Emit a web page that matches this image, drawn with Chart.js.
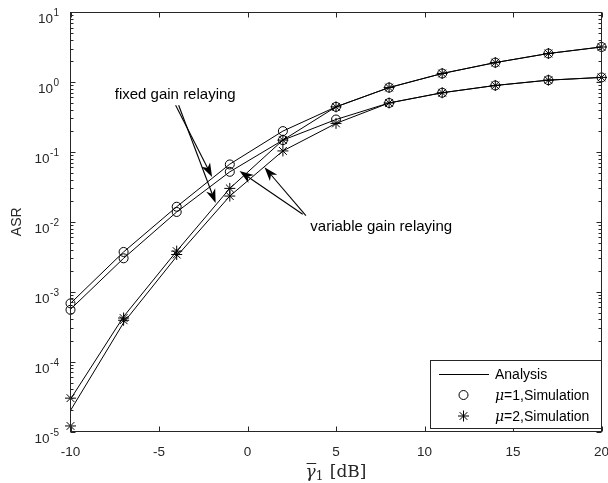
<!DOCTYPE html>
<html><head><meta charset="utf-8">
<script src="https://cdn.jsdelivr.net/npm/chart.js@4"></script>
<style>html,body{margin:0;padding:0;background:#fff}#wrap{width:608px;height:483px;position:relative}</style>
</head><body><div id="wrap"><canvas id="c" width="608" height="483"></canvas></div>
<script>
// ---- data ----
const snrDb = [-10, -7, -4, -1, 2, 5, 8, 11, 14, 17, 20];
const fixedMu1 = [6.8e-4, 3.7e-3, 1.64e-2, 6.67e-2, 0.198, 0.44, 0.83, 1.32, 1.89, 2.55, 3.16];
const variableMu1 = [5.6e-4, 3.0e-3, 1.38e-2, 5.18e-2, 0.147, 0.29, 0.50, 0.70, 0.89, 1.06, 1.16];
const fixedMu2 = [2.9e-5, 4.4e-4, 3.8e-3, 3.0e-2, 0.147, 0.44, 0.83, 1.32, 1.89, 2.55, 3.16];
const variableMu2 = [2.0e-5, 3.6e-4, 3.2e-3, 2.33e-2, 0.103, 0.255, 0.50, 0.70, 0.89, 1.06, 1.16];
const simFixedMu1 = [6.8e-4, 3.7e-3, 1.64e-2, 6.6e-2, 0.198, 0.44, 0.83, 1.32, 1.89, 2.55, 3.16];
const simVariableMu1 = [5.5e-4, 3.0e-3, 1.38e-2, 5.18e-2, 0.147, 0.29, 0.50, 0.70, 0.89, 1.06, 1.16];
const simFixedMu2 = [3.0e-5, 4.2e-4, 3.8e-3, 3.0e-2, 0.147, 0.44, 0.83, 1.32, 1.89, 2.55, 3.16];
const simVariableMu2 = [1.2e-5, 3.9e-4, 3.4e-3, 2.33e-2, 0.103, 0.255, 0.50, 0.70, 0.89, 1.06, 1.16];
const xTickValues = [-10, -5, 0, 5, 10, 15, 20];
const yDecades = [-5, -4, -3, -2, -1, 0, 1];
const legendLabels = ['Analysis', '=1,Simulation', '=2,Simulation'];
const yAxisTitle = 'ASR';
const fixedText = 'fixed gain relaying';
const variableText = 'variable gain relaying';
// annotation anchors in data units (x dB, y ASR)
const fixedTextAt = [-7.5, 0.646];
const fixedArrows = [[[-4.06, 0.464], [-2.0, 0.0436]], [[-3.89, 0.464], [-1.8, 0.0185]]];
const variableTextAt = [3.55, 0.0084];
const variableArrows = [[[3.12, 0.0128], [-0.45, 0.053]], [[3.30, 0.0122], [0.96, 0.0604]]];

const pts = arr => snrDb.map((x, i) => ({x, y: arr[i]}));
const AX = '#262626';
const SANS = '"Liberation Sans", Arial, sans-serif';

function lineDs(label, arr) {
  return {label, data: pts(arr), borderColor: '#000', borderWidth: 1, pointRadius: 0,
    fill: false, tension: 0, clip: false};
}
function markDs(label, arr, style, r) {
  return {label, data: pts(arr), showLine: false, pointStyle: style, pointRadius: r,
    pointBorderColor: '#000', pointBackgroundColor: 'rgba(0,0,0,0)', pointBorderWidth: 1,
    borderColor: '#000', clip: false};
}

function drawArrow(ctx, x0, y0, x1, y1) {
  const ang = Math.atan2(y1 - y0, x1 - x0);
  const len = 14, hw = 4.8, notch = 4;
  const ca = Math.cos(ang), sa = Math.sin(ang);
  const bx = x1 - len * ca, by = y1 - len * sa;
  ctx.beginPath(); ctx.moveTo(x0, y0); ctx.lineTo(x1 - (len - notch) * ca, y1 - (len - notch) * sa); ctx.stroke();
  ctx.beginPath();
  ctx.moveTo(x1, y1);
  ctx.lineTo(bx - hw * sa, by + hw * ca);
  ctx.lineTo(x1 - (len - notch) * ca, y1 - (len - notch) * sa);
  ctx.lineTo(bx + hw * sa, by - hw * ca);
  ctx.closePath(); ctx.fill();
}

const matlabAxes = {
  id: 'matlabAxes',
  afterDraw(chart) {
    const {ctx, chartArea: a, scales: {x, y}} = chart;
    const L = Math.floor(a.left) + 0.5, R = Math.floor(a.right) + 0.5;
    const T = Math.floor(a.top) + 0.5, B = Math.floor(a.bottom) + 0.5;
    ctx.save();
    ctx.strokeStyle = AX; ctx.lineWidth = 1;
    ctx.strokeRect(L, T, R - L, B - T);
    ctx.beginPath();
    xTickValues.forEach(v => {
      const px = Math.round(x.getPixelForValue(v)) + 0.5;
      ctx.moveTo(px, B); ctx.lineTo(px, B - 5);
      ctx.moveTo(px, T); ctx.lineTo(px, T + 5);
    });
    yDecades.forEach(d => {
      const kmax = d === yDecades[yDecades.length - 1] ? 1 : 9;
      for (let k = 1; k <= kmax; k++) {
        const py = Math.round(y.getPixelForValue(k * Math.pow(10, d))) + 0.5;
        const len = k === 1 ? 5 : 3;
        ctx.moveTo(L, py); ctx.lineTo(L + len, py);
        ctx.moveTo(R, py); ctx.lineTo(R - len, py);
      }
    });
    ctx.stroke();
    // y tick labels 10^d
    ctx.fillStyle = AX; ctx.textBaseline = 'alphabetic'; ctx.textAlign = 'left';
    yDecades.forEach(d => {
      const py = y.getPixelForValue(Math.pow(10, d));
      const sup = String(d);
      ctx.font = '10px ' + SANS; const sw = ctx.measureText(sup).width;
      ctx.font = '13.5px ' + SANS; const bw = ctx.measureText('10').width;
      const right = a.left - 11.5;
      const sx = right - sw;
      ctx.fillText('10', sx - bw - 0.5, py + 11);
      ctx.font = '10px ' + SANS; ctx.fillText(sup, sx, py + 4);
    });
    // y axis title
    ctx.save();
    ctx.translate(17, (a.top + a.bottom) / 2);
    ctx.rotate(-Math.PI / 2);
    ctx.font = '14px ' + SANS; ctx.textAlign = 'center'; ctx.textBaseline = 'middle';
    ctx.fillText(yAxisTitle, 0, 0);
    ctx.restore();
    // x axis title: overline gamma sub 1 [dB]
    {
      const cx = (a.left + a.right) / 2, base = 477;
      const fG = 'italic 17px "DejaVu Serif", serif', fS = '12px "DejaVu Serif", serif', fT = '17px "DejaVu Serif", serif';
      ctx.font = fG; const wG = ctx.measureText('γ').width;
      ctx.font = fS; const wS = ctx.measureText('1').width;
      ctx.font = fT; const wT = ctx.measureText(' [dB]').width;
      let x0 = cx - (wG + wS + 1 + wT) / 2;
      ctx.fillStyle = AX; ctx.textAlign = 'left'; ctx.textBaseline = 'alphabetic';
      ctx.font = fG; ctx.fillText('γ', x0, base);
      ctx.beginPath(); ctx.lineWidth = 1; ctx.moveTo(x0 + 1, base - 13.5); ctx.lineTo(x0 + wG + 0.5, base - 13.5); ctx.stroke();
      ctx.font = fS; ctx.fillText('1', x0 + wG, base + 3);
      ctx.font = fT; ctx.fillText(' [dB]', x0 + wG + wS + 1, base);
    }
    // annotations
    ctx.fillStyle = '#000'; ctx.strokeStyle = '#000'; ctx.lineWidth = 1.1;
    ctx.font = '15px ' + SANS; ctx.textAlign = 'left'; ctx.textBaseline = 'middle';
    const P = p => [x.getPixelForValue(p[0]), y.getPixelForValue(p[1])];
    let tp = P(fixedTextAt); ctx.fillText(fixedText, tp[0], tp[1]);
    tp = P(variableTextAt); ctx.fillText(variableText, tp[0], tp[1]);
    fixedArrows.concat(variableArrows).forEach(([s, e]) => {
      const ps = P(s), pe = P(e); drawArrow(ctx, ps[0], ps[1], pe[0], pe[1]);
    });
    // legend
    {
      ctx.lineWidth = 1;
      const lx = 430.5, ly = 360.5, lw = R - lx, lh = 68;
      ctx.fillStyle = '#fff'; ctx.fillRect(lx, ly, lw, lh);
      ctx.strokeStyle = AX; ctx.strokeRect(lx, ly, lw, lh);
      ctx.strokeStyle = '#000'; ctx.fillStyle = '#000';
      const rows = [374, 395, 416];
      ctx.beginPath(); ctx.moveTo(439, rows[0] + 0.5); ctx.lineTo(489, rows[0] + 0.5); ctx.stroke();
      ctx.beginPath(); ctx.arc(463.5, rows[1], 4.5, 0, Math.PI * 2); ctx.stroke();
      ctx.beginPath();
      const r = 5.5, sx = 463.5, sy = rows[2];
      ctx.moveTo(sx - r, sy); ctx.lineTo(sx + r, sy); ctx.moveTo(sx, sy - r); ctx.lineTo(sx, sy + r);
      const q = r * 0.7071;
      ctx.moveTo(sx - q, sy - q); ctx.lineTo(sx + q, sy + q); ctx.moveTo(sx - q, sy + q); ctx.lineTo(sx + q, sy - q);
      ctx.stroke();
      ctx.textBaseline = 'middle'; ctx.textAlign = 'left';
      ctx.font = '14px ' + SANS; ctx.fillText(legendLabels[0], 495, rows[0] + 1);
      [1, 2].forEach(i => {
        ctx.font = 'italic 14px "DejaVu Serif", serif';
        ctx.fillText('μ', 495, rows[i] + 1);
        const mw = ctx.measureText('μ').width;
        ctx.font = '14px ' + SANS; ctx.fillText(legendLabels[i], 495 + mw, rows[i] + 1);
      });
    }
    ctx.restore();
  }
};

new Chart(document.getElementById('c'), {
  type: 'line',
  data: {datasets: [
    lineDs('Analysis', fixedMu1), lineDs('Analysis', variableMu1),
    lineDs('Analysis', fixedMu2), lineDs('Analysis', variableMu2),
    markDs('μ=1,Simulation', simFixedMu1, 'circle', 4.5), markDs('μ=1,Simulation', simVariableMu1, 'circle', 4.5),
    markDs('μ=2,Simulation', simFixedMu2, 'star', 5.5), markDs('μ=2,Simulation', simVariableMu2, 'star', 5.5)
  ]},
  options: {
    responsive: false, animation: false, devicePixelRatio: 1, events: [],
    layout: {padding: {top: 12, right: 5.5, left: 0, bottom: 0}},
    plugins: {legend: {display: false}, tooltip: {enabled: false}},
    scales: {
      x: {type: 'linear', min: -10, max: 20,
        ticks: {stepSize: 5, color: AX, font: {family: SANS, size: 13.5}, padding: 13, maxRotation: 0},
        grid: {display: false, drawTicks: false}, border: {display: false},
        afterFit(s) { s.height = 51.5; s.paddingLeft = 0; s.paddingRight = 0; }},
      y: {type: 'logarithmic', min: 1e-5, max: 10,
        ticks: {display: false}, grid: {display: false, drawTicks: false}, border: {display: false},
        afterFit(s) { s.width = 70.5; s.paddingTop = 0; s.paddingBottom = 0; }}
    }
  },
  plugins: [matlabAxes]
});
</script></body></html>
